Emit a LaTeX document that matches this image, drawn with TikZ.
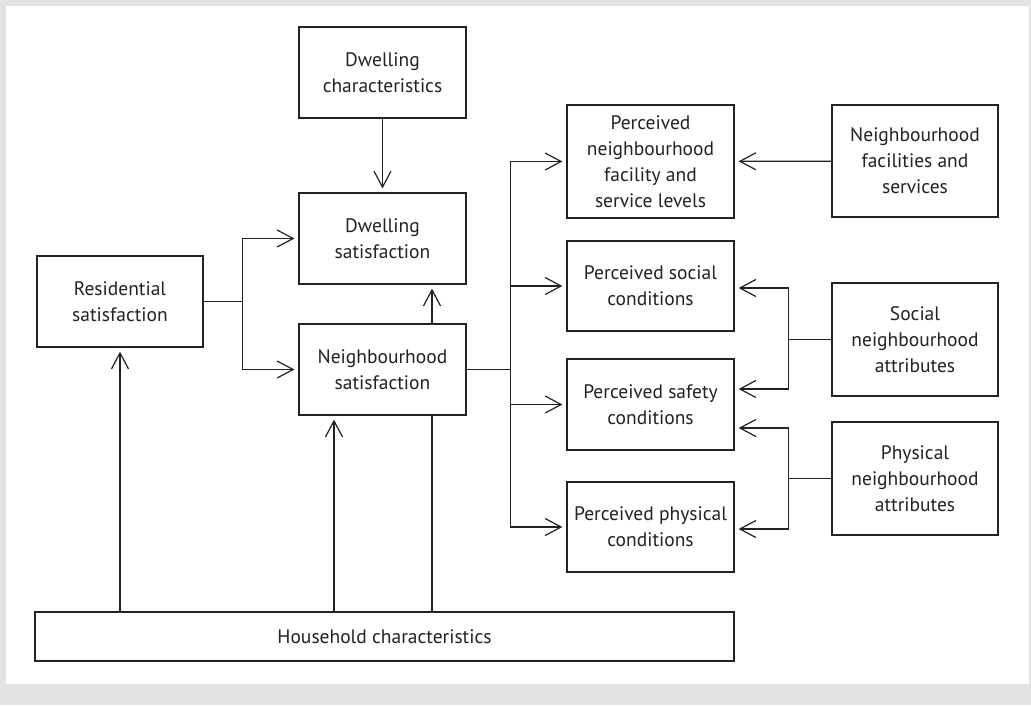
\documentclass[tikz,border=0pt]{standalone}
\usepackage{fontspec}
\setmainfont{PT Sans}
\usetikzlibrary{arrows.meta}
\definecolor{bggrey}{HTML}{E2E3E5}
\definecolor{ink}{HTML}{222222}
\tikzset{
  box/.style={draw=ink, line width=1.2pt, align=center, inner sep=2pt,
    font=\fontsize{19.5}{26}\selectfont, text=ink},
  conn/.style={draw=ink, line width=1.2pt},
  arr/.style={conn, -{Straight Barb[length=16pt,width=17pt,line width=1.2pt]}, shorten >=4pt},
}
\begin{document}
\begin{tikzpicture}[x=1pt,y=-1pt]
\fill[bggrey] (0,0) rectangle (1031,705);
\fill[white] (6,6) rectangle (1029,684);
\useasboundingbox (0,0) rectangle (1031,705);

\node[box, minimum width=167pt, minimum height=91pt] (dchar) at (382.5,72.5) {Dwelling\\characteristics};
\node[box, minimum width=167pt, minimum height=91pt] (dsat) at (382.5,238.5) {Dwelling\\satisfaction};
\node[box, minimum width=167pt, minimum height=91pt] (nsat) at (382.5,369.5) {Neighbourhood\\satisfaction};
\node[box, minimum width=166pt, minimum height=91pt] (res) at (120,301.5) {Residential\\satisfaction};
\node[box, minimum width=167pt, minimum height=113pt] (pfac) at (650.5,161.5) {Perceived\\neighbourhood\\facility and\\service levels};
\node[box, minimum width=167pt, minimum height=90pt] (psoc) at (650.5,286) {Perceived social\\conditions};
\node[box, minimum width=167pt, minimum height=91pt] (psaf) at (650.5,404.5) {Perceived safety\\conditions};
\node[box, minimum width=167pt, minimum height=90pt] (pphy) at (650.5,527) {Perceived physical\\conditions};
\node[box, minimum width=166pt, minimum height=112pt] (nfac) at (915,161) {Neighbourhood\\facilities and\\services};
\node[box, minimum width=166pt, minimum height=113pt] (soca) at (915,339.5) {Social\\neighbourhood\\attributes};
\node[box, minimum width=166pt, minimum height=113pt] (phya) at (915,478.5) {Physical\\neighbourhood\\attributes};
\node[box, minimum width=699pt, minimum height=49pt] (house) at (384.5,636.5) {Household characteristics};

% dwelling characteristics -> dwelling satisfaction
\draw[arr] (dchar) -- (dsat);
% residential -> dwelling / neighbourhood satisfaction
\draw[conn] (res.east) -- ++(39,0) coordinate (rj);
\draw[arr] (rj) |- (dsat.west);
\draw[arr] (rj) |- (nsat.west);
% neighbourhood -> dwelling satisfaction
\draw[arr] ([xshift=49.5pt]nsat.north) -- ([xshift=49.5pt]dsat.south);
% household links
\draw[arr] (res.south |- house.north) -- (res.south);
\draw[arr] ([xshift=-48.5pt]nsat.south |- house.north) -- ([xshift=-48.5pt]nsat.south);
\draw[conn] ([xshift=49.5pt]nsat.south |- house.north) -- ([xshift=49.5pt]nsat.south);
% neighbourhood satisfaction -> perceived
\draw[conn] (nsat.east) -- ++(44,0) coordinate (bus);
\draw[arr] (bus) |- (pfac.west);
\draw[arr] (bus) |- (psoc.west);
\draw[arr] (bus) |- (psaf.west);
\draw[arr] (bus) |- (pphy.west);
% facilities -> perceived facility
\draw[arr] (nfac) -- (pfac);
% social attributes
\draw[conn] (soca.west) -- ++(-43,0) coordinate (sj);
\draw[arr] (sj) |- ([yshift=-2pt]psoc.east);
\draw[arr] (sj) |- ([yshift=15.5pt]psaf.east);
% physical attributes
\draw[conn] (phya.west) -- ++(-43,0) coordinate (pj);
\draw[arr] (pj) |- ([yshift=-23.5pt]psaf.east);
\draw[arr] (pj) |- ([yshift=-2pt]pphy.east);
\end{tikzpicture}
\end{document}
